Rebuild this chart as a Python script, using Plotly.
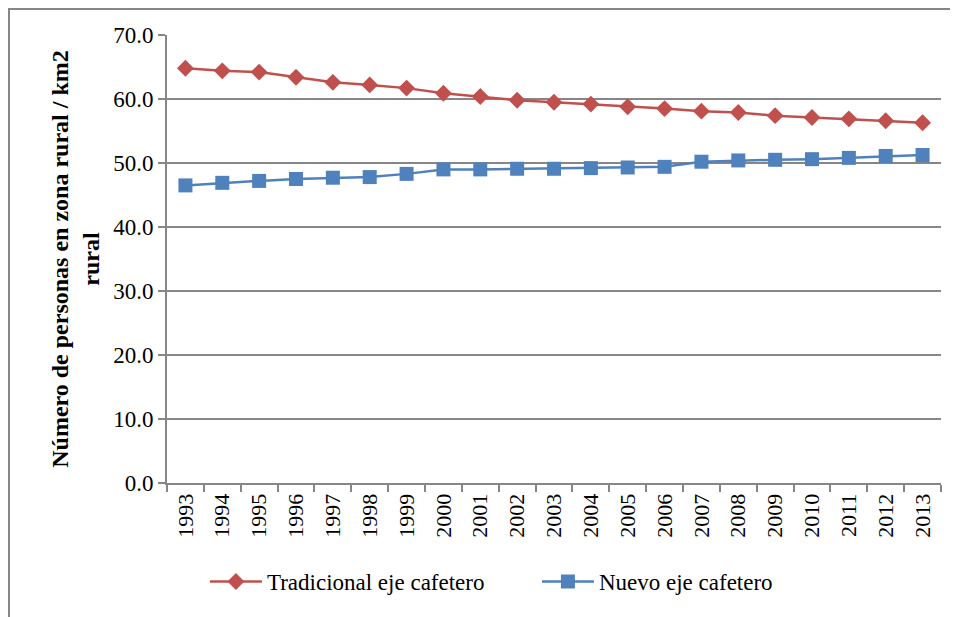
import plotly.graph_objects as go

years = [str(y) for y in range(1993, 2014)]
tradicional = [64.8, 64.4, 64.2, 63.4, 62.6, 62.2, 61.7, 60.9, 60.4, 59.8, 59.5,
               59.2, 58.8, 58.5, 58.1, 57.9, 57.4, 57.1, 56.9, 56.6, 56.3]
nuevo = [46.5, 46.9, 47.2, 47.5, 47.7, 47.8, 48.3, 49.0, 49.0, 49.1, 49.1,
         49.2, 49.3, 49.4, 50.2, 50.4, 50.5, 50.6, 50.8, 51.1, 51.25]
y_ticks = [0, 10, 20, 30, 40, 50, 60, 70]

# page body has an 8px margin; figure coordinates are page coordinates - 8
W, H = 950, 609
L, R, T, B = 159, 17, 27, 134
FONT = "Liberation Serif"
GRID = "#868686"

fig = go.Figure()
fig.add_trace(go.Scatter(
    x=years, y=tradicional, name="Tradicional eje cafetero",
    mode="lines+markers",
    line=dict(color="#C0504D", width=2.5),
    marker=dict(symbol="diamond", size=13, color="#C0504D"),
))
fig.add_trace(go.Scatter(
    x=years, y=nuevo, name="Nuevo eje cafetero",
    mode="lines+markers",
    line=dict(color="#4F81BD", width=2.5),
    marker=dict(symbol="square", size=14, color="#4F81BD"),
))

pw = W - L - R
ph = H - T - B
fig.add_shape(type="rect", xref="paper", yref="paper",
              x0=(1 - L) / pw, x1=(W + 10 - L) / pw,
              y0=(H - B - (H + 10)) / ph, y1=(H - B - 1) / ph,
              line=dict(color=GRID, width=2), layer="below")

fig.update_layout(
    width=W, height=H,
    margin=dict(l=L, r=R, t=T, b=B),
    paper_bgcolor="white", plot_bgcolor="white",
    font=dict(family=FONT, size=23, color="black"),
    showlegend=True,
    legend=dict(orientation="h", x=0.049, xanchor="left", y=-0.22, yanchor="middle",
                font=dict(family=FONT, size=23), itemwidth=52,
                entrywidth=265, entrywidthmode="pixels",
                bgcolor="rgba(0,0,0,0)"),
    xaxis=dict(
        type="category", range=[-0.5, 20.5],
        showline=True, linecolor=GRID, linewidth=2,
        ticks="outside", tickson="boundaries", ticklen=7, tickcolor=GRID, tickwidth=1.5,
        tickangle=-90, showgrid=False,
        tickfont=dict(family=FONT, size=22),
    ),
    yaxis=dict(
        range=[0, 70], tickvals=y_ticks, tickformat=".1f",
        showline=True, linecolor=GRID, linewidth=2,
        ticks="outside", ticklen=7, tickcolor=GRID, tickwidth=1.5,
        showgrid=True, gridcolor=GRID, gridwidth=2,
        zeroline=False,
        tickfont=dict(family=FONT, size=23),
        title=dict(text="<b>Número de personas en zona rural / km2<br>rural</b>",
                   font=dict(family=FONT, size=24), standoff=7),
    ),
)

fig.write_html("out.html")
